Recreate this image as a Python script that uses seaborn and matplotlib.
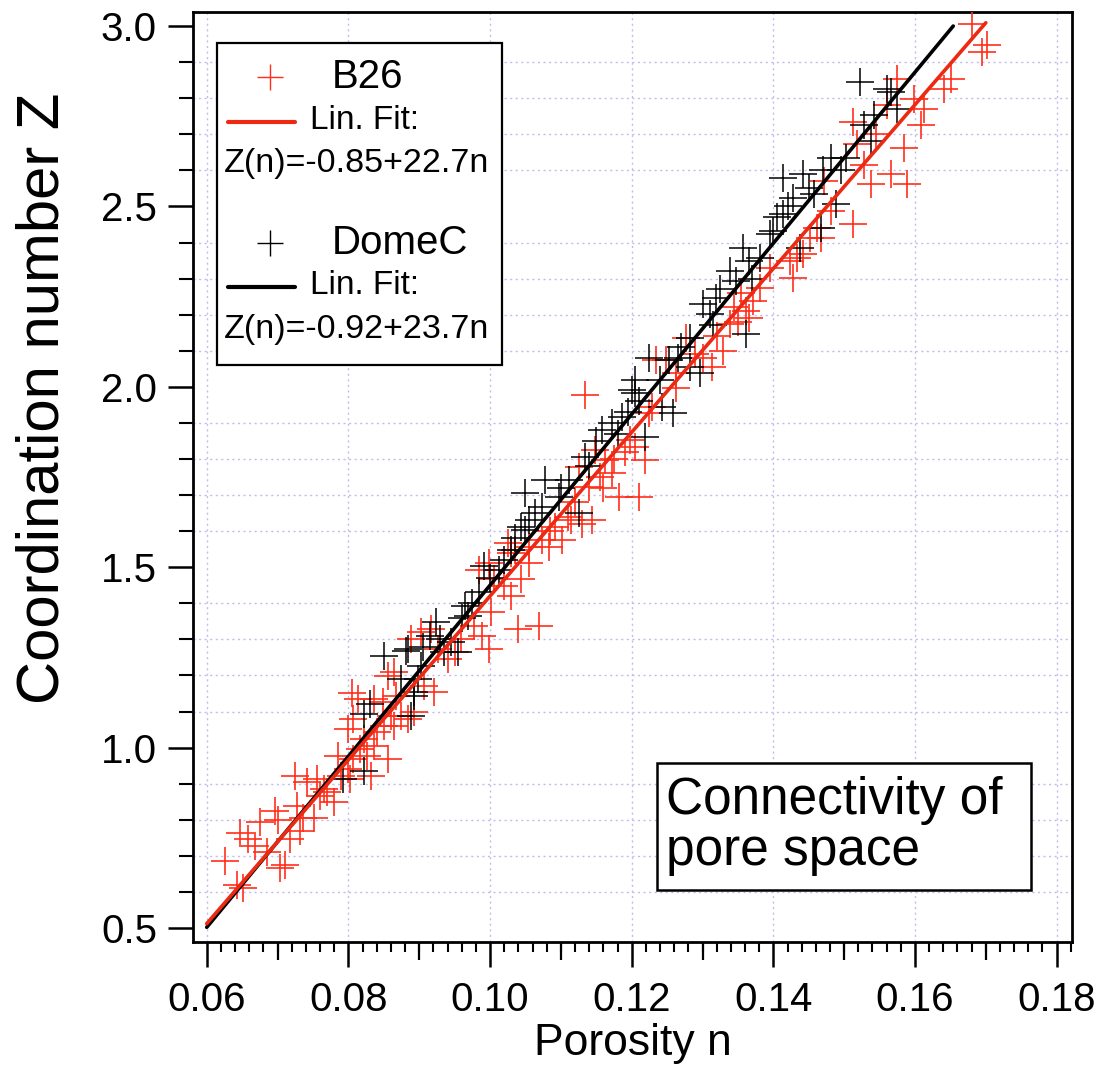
import numpy as np
import pandas as pd
import matplotlib
matplotlib.use("Agg")
import matplotlib.pyplot as plt
from matplotlib.patches import Rectangle
from matplotlib.ticker import MultipleLocator
import seaborn as sns

# ---------------- data ----------------
b26_n = [0.0626, 0.0643, 0.0651, 0.0647, 0.0658, 0.0668, 0.0675, 0.0685, 0.0697, 0.0701,
         0.0704, 0.0711, 0.0718, 0.0728, 0.0725, 0.0732, 0.0736, 0.0742, 0.0751, 0.0756,
         0.0760, 0.0765, 0.0779, 0.0770, 0.0785, 0.0789, 0.0799, 0.0803, 0.0807, 0.0813,
         0.0799, 0.0807, 0.0817, 0.0822, 0.0827, 0.0832, 0.0836, 0.0841, 0.0849, 0.0850,
         0.0856, 0.0860, 0.0864, 0.0874, 0.0856, 0.0864, 0.0884, 0.0893,
         0.0805, 0.0836, 0.0867, 0.0888, 0.0903, 0.0917, 0.0927, 0.0907, 0.0921, 0.0941,
         0.0950, 0.0959, 0.0978, 0.0988, 0.0998, 0.1002, 0.0984, 0.0998, 0.1006, 0.1020,
         0.1030, 0.1035, 0.1044, 0.1040, 0.1069, 0.1055, 0.1026,
         0.1134, 0.1030, 0.1055, 0.1073, 0.1083, 0.1101, 0.1092, 0.1126, 0.1140, 0.1148,
         0.1163, 0.1144, 0.1182, 0.1211, 0.1219, 0.1197, 0.1205, 0.1229, 0.1248, 0.1262,
         0.1172, 0.1085, 0.1110, 0.1120, 0.1155, 0.1175, 0.1190, 0.1160, 0.1115, 0.1130,
         0.1234, 0.1276, 0.1314, 0.1329, 0.1300, 0.1339, 0.1361, 0.1371, 0.1381, 0.1395,
         0.1428, 0.1424, 0.1442, 0.1461, 0.1452, 0.1225, 0.1262, 0.1290, 0.1320, 0.1350,
         0.1345, 0.1355, 0.1365,
         0.1574, 0.1599, 0.1613, 0.1651, 0.1641, 0.1702, 0.1694, 0.1513, 0.1518, 0.1584,
         0.1609, 0.1566, 0.1589, 0.1538, 0.1528, 0.1513, 0.1471, 0.1481, 0.1467, 0.1433,
         0.1681, 0.1560, 0.1545]
b26_z = [0.685, 0.619, 0.610, 0.762, 0.748, 0.726, 0.795, 0.712, 0.823, 0.798,
         0.666, 0.674, 0.748, 0.839, 0.922, 0.768, 0.804, 0.906, 0.804, 0.914,
         0.867, 0.886, 0.850, 0.878, 0.977, 0.922, 0.941, 0.914, 0.969, 1.135,
         1.052, 1.079, 0.997, 1.024, 0.977, 0.922, 1.005, 1.044, 1.126, 1.060,
         0.969, 1.088, 1.060, 1.088, 1.198, 1.209, 1.079, 1.099,
         1.150, 1.135, 1.143, 1.300, 1.320, 1.328, 1.273, 1.171, 1.154, 1.245,
         1.264, 1.300, 1.336, 1.308, 1.273, 1.375, 1.493, 1.513, 1.466, 1.447,
         1.419, 1.549, 1.466, 1.328, 1.336, 1.513, 1.568,
         1.976, 1.540, 1.557, 1.576, 1.557, 1.576, 1.612, 1.778, 1.722, 1.825,
         1.797, 1.631, 1.695, 1.695, 1.797, 1.852, 1.833, 1.943, 2.073, 2.037,
         1.761, 1.600, 1.640, 1.680, 1.750, 1.800, 1.820, 1.720, 1.630, 1.620,
         2.073, 2.136, 2.054, 2.100, 2.081, 2.175, 2.211, 2.238, 2.274, 2.329,
         2.302, 2.349, 2.368, 2.440, 2.412, 1.927, 1.998, 2.090, 2.140, 2.180,
         2.220, 2.260, 2.190,
         2.854, 2.799, 2.771, 2.854, 2.826, 2.948, 2.928, 2.735, 2.672, 2.661,
         2.727, 2.589, 2.561, 2.561, 2.616, 2.451, 2.570, 2.487, 2.412, 2.357,
         3.005, 2.780, 2.700]

domec_n = [0.0850, 0.0881, 0.0822, 0.0822, 0.0793, 0.0888, 0.0874, 0.0893,
           0.0884, 0.0924, 0.0898, 0.0893, 0.0955, 0.0945, 0.0964, 0.0969, 0.0992, 0.1012,
           0.1030, 0.1049, 0.1049, 0.1063, 0.0830, 0.0903, 0.0935,
           0.1077, 0.1073, 0.1044, 0.1111, 0.1126, 0.1134, 0.1158, 0.1172, 0.1187, 0.1201,
           0.1219, 0.1243, 0.1258, 0.1225, 0.1253, 0.1097,
           0.1205, 0.1205, 0.1282, 0.1300, 0.1319, 0.1339, 0.1357, 0.1361, 0.1381, 0.1395,
           0.1414, 0.1438, 0.1282, 0.1296, 0.1310, 0.1347,
           0.1414, 0.1442, 0.1428, 0.1457, 0.1481, 0.1503, 0.1528, 0.1542, 0.1566, 0.1574,
           0.1467, 0.1400, 0.1489, 0.1538, 0.1560, 0.1523,
           0.1100, 0.1140, 0.1150, 0.1180, 0.1195, 0.1210, 0.1240, 0.1265, 0.1270, 0.1315,
           0.1325, 0.1365, 0.1370, 0.1405, 0.1420, 0.1450, 0.1470, 0.1495,
           0.0905, 0.0915, 0.0930, 0.0960, 0.0975, 0.0985, 0.1000, 0.1020, 0.1035, 0.1055]
domec_z = [1.253, 1.267, 1.093, 0.936, 0.914, 1.088, 1.190, 1.154,
           1.273, 1.347, 1.190, 1.143, 1.264, 1.292, 1.392, 1.364, 1.502, 1.493,
           1.549, 1.706, 1.604, 1.651, 1.120, 1.226, 1.264,
           1.742, 1.667, 1.612, 1.742, 1.651, 1.805, 1.880, 1.899, 1.916, 1.990,
           1.860, 1.943, 1.927, 2.081, 2.073, 1.695,
           1.982, 2.018, 2.136, 2.230, 2.247, 2.321, 2.385, 2.147, 2.357, 2.423,
           2.478, 2.385, 2.054, 2.037, 2.203, 2.294,
           2.578, 2.589, 2.523, 2.534, 2.633, 2.633, 2.727, 2.754, 2.818, 2.771,
           2.440, 2.432, 2.506, 2.680, 2.826, 2.845,
           1.720, 1.780, 1.850, 1.870, 1.930, 1.960, 2.020, 2.080, 2.110, 2.170,
           2.270, 2.350, 2.300, 2.470, 2.500, 2.550, 2.600, 2.600,
           1.280, 1.310, 1.300, 1.360, 1.400, 1.430, 1.470, 1.520, 1.580, 1.630]

# linear fits (coefficients from the legend) and their n-ranges
b26_fit = (-0.85, 22.7)
domec_fit = (-0.92, 23.7)
b26_fit_range = [0.06, 0.17]
domec_fit_range = [0.06, 0.1654]

x_ticks = [0.06, 0.08, 0.10, 0.12, 0.14, 0.16, 0.18]
x_ticklabels = ["0.06", "0.08", "0.10", "0.12", "0.14", "0.16", "0.18"]
y_ticks = [0.5, 1.0, 1.5, 2.0, 2.5, 3.0]
y_ticklabels = ["0.5", "1.0", "1.5", "2.0", "2.5", "3.0"]

RED = "#ff2d1a"
RED_LINE = "#ec2a14"
BLACK = "#000000"

# ---------------- figure ----------------
sns.set_theme(style="white")
plt.rcParams["font.family"] = ["Liberation Sans", "DejaVu Sans"]

fig = plt.figure(figsize=(11.0, 10.74), dpi=100)
ax = fig.add_axes([0.1755, 0.1229, 0.7990, 0.8659])

df_b = pd.DataFrame({"n": b26_n, "Z": b26_z})
df_d = pd.DataFrame({"n": domec_n, "Z": domec_z})

sns.scatterplot(data=df_b, x="n", y="Z", marker="+", s=430, color=RED,
                linewidth=1.2, ax=ax, zorder=3, legend=False)
sns.scatterplot(data=df_d, x="n", y="Z", marker="+", s=430, color=BLACK,
                linewidth=1.1, ax=ax, zorder=3, legend=False)

xb = np.array(b26_fit_range)
xd = np.array(domec_fit_range)
ax.plot(xd, domec_fit[0] + domec_fit[1] * xd, color=BLACK, lw=2.6, zorder=4)
ax.plot(xb, b26_fit[0] + b26_fit[1] * xb, color=RED_LINE, lw=2.6, zorder=5)

ax.set_xlim(0.05807, 0.18216)
ax.set_ylim(0.4612, 3.0388)

ax.set_xticks(x_ticks)
ax.set_xticklabels(x_ticklabels)
ax.set_yticks(y_ticks)
ax.set_yticklabels(y_ticklabels)
ax.xaxis.set_minor_locator(MultipleLocator(0.002))
ax.yaxis.set_minor_locator(MultipleLocator(0.1))

ax.tick_params(axis="both", which="major", direction="out", length=18, width=1.8,
               color="black", labelsize=29, labelcolor="black")
ax.tick_params(axis="x", which="major", pad=10, bottom=True, top=False)
ax.tick_params(axis="y", which="major", pad=8, left=True, right=False)
ax.tick_params(axis="both", which="minor", direction="out", length=7, width=1.5,
               color="black")
ax.tick_params(axis="x", which="minor", bottom=True, top=False)
ax.tick_params(axis="y", which="minor", left=True, right=False, length=10)

# medium ticks at odd hundredths
sec = ax.secondary_xaxis("bottom")
sec.set_xticks([0.07, 0.09, 0.11, 0.13, 0.15, 0.17])
sec.tick_params(axis="x", which="major", direction="out", length=13, width=1.6,
                labelbottom=False, color="black")
sec.xaxis.set_minor_locator(matplotlib.ticker.NullLocator())
sec.spines["bottom"].set_visible(False)

grid_kw = dict(color="#bdbdee", linestyle=(0, (1.5, 2.5)), linewidth=1.0)
ax.grid(False)
ax.xaxis.grid(True, which="major", **grid_kw)
ax.yaxis.grid(True, which="minor", **grid_kw)
ax.set_axisbelow(True)

for side in ["left", "right", "top", "bottom"]:
    ax.spines[side].set_visible(True)
    ax.spines[side].set_color("black")
    ax.spines[side].set_linewidth(2.0)

ax.set_xlabel("Porosity n", fontsize=32, color="black")
ax.xaxis.set_label_coords(0.5, -0.087)
ax.set_ylabel("Coordination number Z", fontsize=43, color="black")
ax.yaxis.set_label_coords(-0.140, 0.585)

# ---------------- legend box (manual) ----------------
T = ax.transAxes
ax.add_patch(Rectangle((0.0273, 0.6204), 0.3242, 0.3463, transform=T,
                       facecolor="white", edgecolor="black", lw=1.6, zorder=10))
ax.plot([0.0876], [0.9301], marker="+", ms=19, mew=1.0, color=RED, transform=T,
        zorder=11, clip_on=False, ls="none")
ax.text(0.158, 0.9301, "B26", transform=T, fontsize=29, va="center", ha="left",
        zorder=11, color="black")
ax.plot([0.0398, 0.116], [0.8817, 0.8817], color=RED_LINE, lw=3.0, transform=T,
        zorder=11)
ax.text(0.133, 0.8830, "Lin. Fit:", transform=T, fontsize=24, va="center",
        ha="left", zorder=11, color="black")
ax.text(0.0355, 0.8376, "Z(n)=-0.85+22.7n", transform=T, fontsize=24.5,
        va="center", ha="left", zorder=11, color="black")
ax.plot([0.0876], [0.7516], marker="+", ms=19, mew=1.0, color=BLACK, transform=T,
        zorder=11, clip_on=False, ls="none")
ax.text(0.158, 0.7516, "DomeC", transform=T, fontsize=29, va="center", ha="left",
        zorder=11, color="black")
ax.plot([0.0398, 0.116], [0.7043, 0.7043], color=BLACK, lw=3.0, transform=T,
        zorder=11)
ax.text(0.133, 0.7060, "Lin. Fit:", transform=T, fontsize=24, va="center",
        ha="left", zorder=11, color="black")
ax.text(0.0355, 0.6590, "Z(n)=-0.92+23.7n", transform=T, fontsize=24.5,
        va="center", ha="left", zorder=11, color="black")

# ---------------- annotation box ----------------
ax.add_patch(Rectangle((0.528, 0.0559), 0.4256, 0.1366, transform=T,
                       facecolor="white", edgecolor="black", lw=1.8, zorder=10))
ax.text(0.538, 0.1245, "Connectivity of\npore space", transform=T, fontsize=37,
        va="center", ha="left", linespacing=1.05, zorder=11, color="black")

fig.savefig("out.png", dpi=100, facecolor="white")
